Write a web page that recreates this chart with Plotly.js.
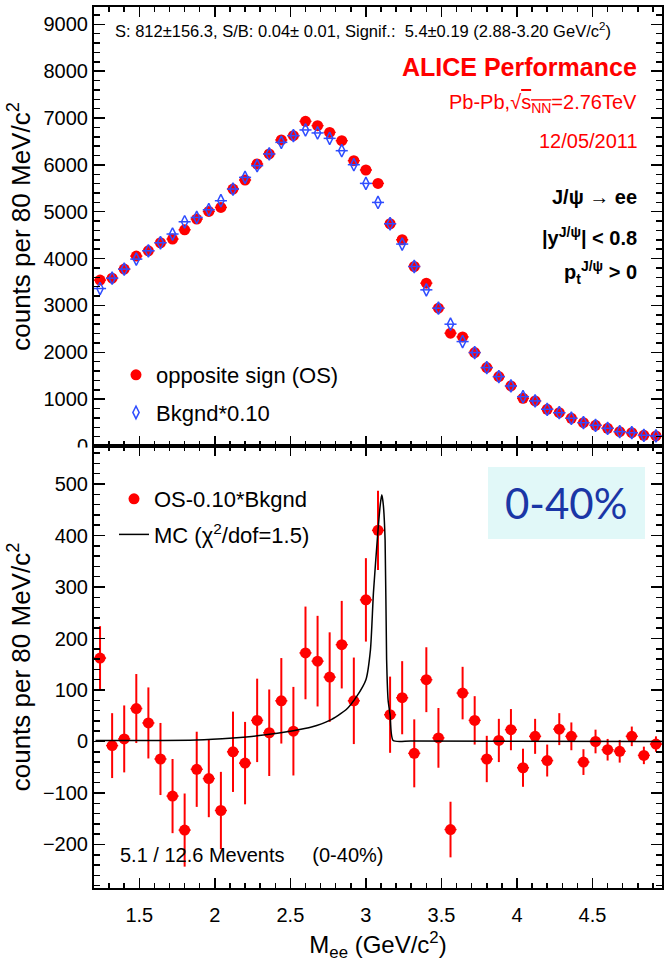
<!DOCTYPE html>
<html>
<head>
<meta charset="utf-8">
<script src="https://cdn.plot.ly/plotly-3.0.1.min.js"></script>
<style>html,body{margin:0;padding:0;background:#fff;}</style>
</head>
<body>
<div id="chart" style="width:668px;height:962px"></div>
<script>
// ---- data ----
const massBins = [1.24,1.32,1.40,1.48,1.56,1.64,1.72,1.80,1.88,1.96,2.04,2.12,2.20,2.28,2.36,2.44,2.52,2.60,2.68,2.76,2.84,2.92,3.00,3.08,3.16,3.24,3.32,3.40,3.48,3.56,3.64,3.72,3.80,3.88,3.96,4.04,4.12,4.20,4.28,4.36,4.44,4.52,4.60,4.68,4.76,4.84,4.92];
const oppositeSign = [3541,3583,3776,4053,4167,4338,4417,4615,4844,5006,5092,5485,5677,6019,6233,6532,6624,6929,6838,6694,6517,6090,5891,5605,4744,4402,3831,3476,2942,2408,2329,1994,1673,1481,1282,1019,962,784,711,592,498,442,378,306,284,229,214];
const bkgndScaled = [3361,3583,3776,3989,4167,4338,4524,4786,4878,5043,5235,5485,5733,5983,6233,6481,6624,6746,6682,6566,6303,6004,5605,5199,4744,4310,3831,3333,2942,2600,2229,1994,1673,1481,1282,1053,962,784,711,592,498,442,378,306,284,229,214];
const signal = [162,-8,5,64,36,-34,-106,-172,-54,-72,-134,-20,-42,41,17,79,20,172,156,125,188,79,275,410,52,85,-23,120,7,-171,94,41,-34,2,23,-51,10,-37,24,10,-40,0,-16,-19,10,-27,-5];
const signalErr = [62,63,65,67,69,70,72,71,73,75,75,78,80,81,84,83,86,90,88,87,85,84,81,77,74,71,66,63,58,54,51,47,45,42,40,37,34,31,31,27,25,23,21,22,19,17,15];
const mcMass = [1.21,1.50,1.88,2.12,2.28,2.52,2.64,2.76,2.87,2.94,3.00,3.03,3.05,3.08,3.095,3.105,3.115,3.127,3.137,3.147,3.16,3.18,3.30,4.96];
const mcCounts = [2,2,3,7,11,21,28,41,62,88,120,178,290,410,460,479,460,391,159,80,52,2,1,0];

const W = 668, H = 962;
const px = v => v / W;           // x pixel -> paper
const py = v => 1 - v / H;       // y pixel -> paper

const xDom = [px(94), px(662)];
const topDom = [py(446), py(7)];
const botDom = [py(888), py(446)];

const F = 'Liberation Sans, Arial, sans-serif';
const axBase = {
  showline: true, linecolor: '#000', linewidth: 2, mirror: 'allticks',
  ticks: 'inside', tickcolor: '#000', tickwidth: 1.5,
  showgrid: false, zeroline: false,
  tickfont: {family: F, size: 20, color: '#000'}
};

const traces = [
  {
    x: massBins, y: oppositeSign, xaxis: 'x', yaxis: 'y', type: 'scatter', mode: 'markers',
    name: 'opposite sign (OS)', legend: 'legend', legendgroup: 'a',
    marker: {symbol: 'circle', size: 11, color: '#ff0000'},
    error_x: {type: 'constant', value: 0.04, color: '#ff0000', thickness: 1.5, width: 0}
  },
  {
    x: massBins, y: bkgndScaled, xaxis: 'x', yaxis: 'y', type: 'scatter', mode: 'markers',
    name: 'Bkgnd*0.10', legend: 'legend', legendgroup: 'b',
    marker: {symbol: 'diamond-tall-open', size: 9, color: '#2f4dff', line: {width: 1.5, color: '#2f4dff'}},
    error_x: {type: 'constant', value: 0.04, color: '#2f4dff', thickness: 1.5, width: 0}
  },
  {
    x: massBins, y: signal, xaxis: 'x2', yaxis: 'y2', type: 'scatter', mode: 'markers',
    name: 'OS-0.10*Bkgnd', legend: 'legend2', legendgroup: 'c',
    marker: {symbol: 'circle', size: 11, color: '#ff0000'},
    error_y: {type: 'data', array: signalErr, color: '#ff0000', thickness: 2, width: 0},
    error_x: {type: 'constant', value: 0.04, color: '#ff0000', thickness: 1.5, width: 0}
  },
  {
    x: mcMass, y: mcCounts, xaxis: 'x2', yaxis: 'y2', type: 'scatter', mode: 'lines',
    name: 'MC (\u03c7<sup>2</sup>/dof=1.5)', legend: 'legend2', legendgroup: 'd',
    line: {color: '#000', width: 1.5, shape: 'spline', smoothing: 0.6}
  }
];

const layout = {
  width: W, height: H,
  margin: {l: 0, r: 0, t: 0, b: 0},
  paper_bgcolor: '#fff', plot_bgcolor: 'rgba(0,0,0,0)',
  font: {family: F, size: 20, color: '#000'},
  showlegend: true,
  xaxis: Object.assign({}, axBase, {
    domain: xDom, anchor: 'y', range: [1.2, 4.96], showticklabels: false,
    tick0: 0, dtick: 0.5, ticklen: 10,
    minor: {ticks: 'inside', ticklen: 5, dtick: 0.1, tickwidth: 1.5, tickcolor: '#000', showgrid: false}
  }),
  yaxis: Object.assign({}, axBase, {
    domain: topDom, anchor: 'x', range: [0, 9370],
    tick0: 0, dtick: 1000, ticklen: 11,
    minor: {ticks: 'inside', ticklen: 6, dtick: 200, tickwidth: 1.5, tickcolor: '#000', showgrid: false},
    title: {text: 'counts per 80 MeV/c<sup>2</sup>', font: {family: F, size: 26, color: '#000'}, standoff: 5}
  }),
  xaxis2: Object.assign({}, axBase, {
    domain: xDom, anchor: 'y2', range: [1.2, 4.96],
    tick0: 0, dtick: 0.5, ticklen: 10, ticklabelstandoff: 8,
    minor: {ticks: 'inside', ticklen: 5, dtick: 0.1, tickwidth: 1.5, tickcolor: '#000', showgrid: false},
    title: {text: 'M<sub>ee</sub> (GeV/c<sup>2</sup>)', font: {family: F, size: 24, color: '#000'}, standoff: 14}
  }),
  yaxis2: Object.assign({}, axBase, {
    domain: botDom, anchor: 'x2', range: [-284.5, 573.8],
    tick0: 0, dtick: 100, ticklen: 11,
    minor: {ticks: 'inside', ticklen: 6, dtick: 20, tickwidth: 1.5, tickcolor: '#000', showgrid: false},
    title: {text: 'counts per 80 MeV/c<sup>2</sup>', font: {family: F, size: 26, color: '#000'}, standoff: 5}
  }),
  legend: {
    x: px(116), y: py(354), xanchor: 'left', yanchor: 'top',
    bgcolor: 'rgba(0,0,0,0)', borderwidth: 0, tracegroupgap: 6,
    font: {family: F, size: 22, color: '#000'}
  },
  legend2: {
    x: px(114), y: py(478), xanchor: 'left', yanchor: 'top',
    bgcolor: 'rgba(0,0,0,0)', borderwidth: 0, tracegroupgap: 4,
    font: {family: F, size: 22, color: '#000'}
  },
  shapes: [
    {type: 'rect', xref: 'paper', yref: 'paper', x0: px(488), x1: px(645), y0: py(539), y1: py(467),
     fillcolor: '#e1f8f8', line: {width: 0}, layer: 'below'},
    // the lower pad hides the lower half of the upper pad's "0" label, as in the reference
    {type: 'rect', xref: 'paper', yref: 'paper', x0: px(55), x1: px(92), y0: py(462), y1: py(447.5),
     fillcolor: '#ffffff', line: {width: 0}, layer: 'above'}
  ],
  annotations: [
    {xref: 'paper', yref: 'paper', x: px(113), y: py(30), xanchor: 'left', yanchor: 'middle', showarrow: false,
     text: 'S: 812\u00b1156.3, S/B: 0.04\u00b1 0.01, Signif.:\u00a0 5.4\u00b10.19 (2.88-3.20 GeV/c<sup>2</sup>)',
     font: {family: F, size: 16.5, color: '#000'}},
    {xref: 'paper', yref: 'paper', x: px(639), y: py(67), xanchor: 'right', yanchor: 'middle', showarrow: false,
     text: '<b>ALICE Performance</b>', font: {family: F, size: 25, color: '#ff0000'}},
    {xref: 'paper', yref: 'paper', x: px(639), y: py(103), xanchor: 'right', yanchor: 'middle', showarrow: false,
     text: 'Pb-Pb,\u221a<span style="text-decoration:overline">s<sub>NN</sub></span>=2.76TeV', font: {family: F, size: 20, color: '#ff0000'}},
    {xref: 'paper', yref: 'paper', x: px(640), y: py(141), xanchor: 'right', yanchor: 'middle', showarrow: false,
     text: '12/05/2011', font: {family: F, size: 20, color: '#ff0000'}},
    {xref: 'paper', yref: 'paper', x: px(639), y: py(197), xanchor: 'right', yanchor: 'middle', showarrow: false,
     text: '<b>J/\u03c8 \u2192 ee</b>', font: {family: F, size: 20, color: '#000'}},
    {xref: 'paper', yref: 'paper', x: px(639), y: py(236), xanchor: 'right', yanchor: 'middle', showarrow: false,
     text: '<b>|y<sup>J/\u03c8</sup>| &lt; 0.8</b>', font: {family: F, size: 20, color: '#000'}},
    {xref: 'paper', yref: 'paper', x: px(639), y: py(272), xanchor: 'right', yanchor: 'middle', showarrow: false,
     text: '<b>p<sub>t</sub><sup>J/\u03c8</sup> &gt; 0</b>', font: {family: F, size: 20, color: '#000'}},
    {xref: 'paper', yref: 'paper', x: px(566), y: py(503), xanchor: 'center', yanchor: 'middle', showarrow: false,
     text: '0-40%', font: {family: 'Lato, Open Sans, sans-serif', size: 42, color: '#1a36a6'}},
    {xref: 'paper', yref: 'paper', x: px(118), y: py(855), xanchor: 'left', yanchor: 'middle', showarrow: false,
     text: '5.1 / 12.6 Mevents\u00a0\u00a0\u00a0\u00a0 (0-40%)', font: {family: F, size: 20, color: '#000'}}
  ]
};

Plotly.newPlot('chart', traces, layout, {staticPlot: true, displayModeBar: false});
</script>
</body>
</html>
